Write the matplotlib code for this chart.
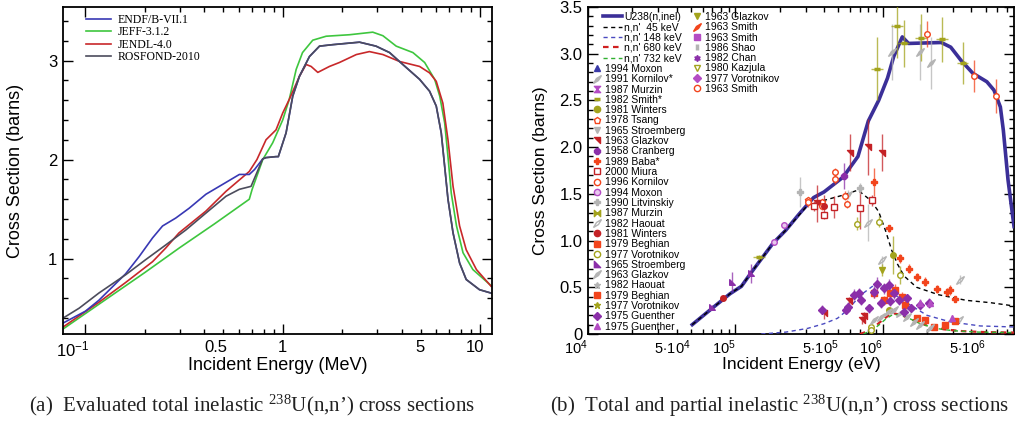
import numpy as np
import matplotlib
matplotlib.use('Agg')
import matplotlib.pyplot as plt
from matplotlib.lines import Line2D
from matplotlib.markers import MarkerStyle
from matplotlib.path import Path
from matplotlib.transforms import Affine2D, ScaledTranslation
from matplotlib.ticker import FixedLocator, FixedFormatter

plt.rcParams['font.family'] = ['Liberation Sans', 'DejaVu Sans']
plt.rcParams['mathtext.fontset'] = 'custom'
plt.rcParams['mathtext.rm'] = 'Liberation Serif'
plt.rcParams['mathtext.sf'] = 'Liberation Sans'
plt.rcParams['mathtext.it'] = 'Liberation Serif:italic'
plt.rcParams['mathtext.bf'] = 'Liberation Serif:bold'

# ---------------- Left panel: evaluated total inelastic (MeV, barns) -------------
endf_e = [0.077, 0.1, 0.117, 0.16, 0.187, 0.219, 0.246, 0.287, 0.336, 0.408, 0.516, 0.603, 0.677,
          0.72, 0.792, 0.823, 0.925, 0.95, 1.04, 1.124, 1.215, 1.366, 1.536, 1.795, 2.45, 2.97,
          3.48, 4.06, 4.94, 5.55, 6.0, 6.36, 6.62, 6.88, 7.3, 7.88, 8.51, 9.94, 11.5]
endf_y = [0.35, 0.47, 0.58, 0.848, 1.02, 1.21, 1.33, 1.41, 1.51, 1.65, 1.77, 1.85, 1.85,
          1.90, 2.007, 2.02, 2.03, 2.03, 2.27, 2.64, 2.84, 3.04, 3.145, 3.16, 3.185, 3.145,
          3.08, 2.96, 2.81, 2.69, 2.54, 2.27, 1.93, 1.60, 1.26, 0.956, 0.79, 0.687, 0.65]

rosfond_e = [0.077, 0.0929, 0.117, 0.16, 0.202, 0.256, 0.323, 0.408, 0.516, 0.603, 0.691,
             0.792, 0.823, 0.925, 0.95, 1.04, 1.124, 1.215, 1.366, 1.536, 1.795, 2.45, 2.97,
             3.48, 4.06, 4.94, 5.55, 6.0, 6.36, 6.62, 6.88, 7.3, 7.88, 8.51, 9.94, 11.5]
rosfond_y = [0.40, 0.50, 0.653, 0.838, 0.99, 1.14, 1.29, 1.46, 1.63, 1.70, 1.73,
             2.007, 2.02, 2.03, 2.03, 2.27, 2.64, 2.84, 3.04, 3.145, 3.16, 3.185, 3.145,
             3.08, 2.96, 2.81, 2.69, 2.54, 2.27, 1.93, 1.60, 1.26, 0.956, 0.79, 0.687, 0.65]

jeff_e = [0.077, 0.117, 0.2, 0.3, 0.45, 0.677, 0.70, 0.792, 0.89, 1.0, 1.08, 1.17, 1.26, 1.42,
          1.66, 2.18, 2.86, 3.22, 3.76, 4.57, 5.24, 5.89, 6.25, 6.62, 6.88, 7.15, 7.6, 8.2, 9.2, 11.5]
jeff_y = [0.29, 0.54, 0.86, 1.11, 1.35, 1.60, 1.70, 2.0, 2.17, 2.40, 2.61, 2.91, 3.08, 3.205,
          3.245, 3.26, 3.286, 3.25, 3.145, 3.08, 2.98, 2.81, 2.64, 2.37, 2.03, 1.66, 1.33, 1.06, 0.89, 0.72]

jendl_e = [0.077, 0.117, 0.16, 0.219, 0.256, 0.298, 0.408, 0.516, 0.677, 0.74, 0.823, 0.925, 1.0,
           1.081, 1.215, 1.314, 1.393, 1.506, 1.725, 1.939, 2.36, 2.75, 3.22, 3.91, 4.94, 5.55,
           6.0, 6.48, 6.88, 7.3, 7.88, 8.51, 9.59, 11.4]
jendl_y = [0.31, 0.56, 0.76, 0.97, 1.11, 1.26, 1.48, 1.68, 1.88, 2.0, 2.20, 2.30, 2.47,
           2.61, 2.84, 2.96, 2.94, 2.88, 2.94, 2.98, 3.06, 3.09, 3.06, 2.99, 2.94, 2.875,
           2.79, 2.57, 2.20, 1.73, 1.33, 1.09, 0.89, 0.72]

# ---------------- Right panel: curves (eV, barns) ----------------
u238_e = [5.1e4, 6.9e4, 9.2e4, 1.1e5, 1.3e5, 1.8e5, 2.2e5, 2.7e5, 3.4e5, 4.0e5, 5.4e5, 6.8e5,
          8.0e5, 9.4e5, 1.08e6, 1.19e6, 1.36e6, 1.5e6, 2.5e6, 2.9e6, 3.4e6, 4.1e6, 5.1e6, 5.7e6,
          6.3e6, 6.6e6, 7.1e6, 7.8e6]
u238_y = [0.10, 0.27, 0.43, 0.51, 0.67, 0.97, 1.11, 1.28, 1.46, 1.52, 1.68, 1.90,
          2.28, 2.50, 2.74, 2.97, 3.18, 3.11, 3.12, 3.07, 2.93, 2.79, 2.70, 2.61,
          2.43, 2.18, 1.65, 1.15]

lvl45_e = [5.1e4, 6.9e4, 9.2e4, 1.1e5, 1.3e5, 1.8e5, 2.2e5, 2.7e5, 3.1e5, 4.0e5, 5.5e5, 6.8e5,
           8.3e5, 9.4e5, 1.05e6, 1.15e6, 1.26e6, 1.4e6, 1.7e6, 2.4e6, 3.7e6, 5.4e6, 7.8e6]
lvl45_y = [0.10, 0.27, 0.43, 0.51, 0.67, 0.97, 1.11, 1.27, 1.38, 1.43, 1.49, 1.54,
           1.43, 1.31, 1.10, 0.90, 0.75, 0.62, 0.50, 0.42, 0.36, 0.335, 0.30]

lvl148_e = [1.5e5, 2.2e5, 3.1e5, 4.0e5, 4.94e5, 5.78e5, 7.1e5, 8.7e5, 9.2e5, 1.13e6, 1.47e6,
            2.0e6, 2.88e6, 4.6e6, 7.8e6]
lvl148_y = [0.0, 0.02, 0.06, 0.11, 0.168, 0.257, 0.417, 0.52, 0.55, 0.45, 0.33,
            0.20, 0.13, 0.086, 0.075]

lvl680_e = [7.0e5, 8e5, 9e5, 1.0e6, 1.1e6, 1.2e6, 1.35e6, 1.6e6, 2.0e6, 2.6e6, 3.5e6, 5e6, 7.8e6]
lvl680_y = [0.0, 0.03, 0.09, 0.15, 0.20, 0.22, 0.20, 0.15, 0.09, 0.05, 0.03, 0.02, 0.015]

lvl732_e = [7.4e5, 8.5e5, 9.5e5, 1.05e6, 1.15e6, 1.3e6, 1.5e6, 1.8e6, 2.3e6, 3e6, 4.5e6, 7.8e6]
lvl732_y = [0.0, 0.04, 0.10, 0.16, 0.20, 0.21, 0.17, 0.11, 0.06, 0.035, 0.02, 0.015]

# ---------------- Right panel: experimental data (eV, barns, +-err) ----------------
moxon94a_e, moxon94a_y, moxon94a_err = [], [], []
kornilov91_e = [1.15e6, 1.79e6, 2.14e6, 5.78e5]
kornilov91_y = [3.02, 3.02, 2.90, 1.49]
kornilov91_err = [0.30, 0.30, 0.28, 0.05]
murzin87a_e, murzin87a_y, murzin87a_err = [], [], []
smith82_e = [1.45e5, 9.2e5, 1.26e6, 1.39e6, 1.83e6, 2.53e6, 3.51e6]
smith82_y = [0.82, 2.84, 3.30, 3.11, 3.17, 3.155, 2.90]
smith82_err = [0.03, 0.34, 0.35, 0.25, 0.25, 0.24, 0.22]
winters81a_e = [1.18e6, 1.1e6]
winters81a_y = [0.845, 0.26]
winters81a_err = [0.2, 0.03]
tsang78_e = [3.1e5, 3.9e5]
tsang78_y = [1.43, 1.41]
tsang78_err = [0.04, 0.04]
stroemberg65a_e, stroemberg65a_y, stroemberg65a_err = [], [], []
glazkov63a_e = [3.6e5, 4.0e5, 5.9e5, 6.02e5, 7.3e5, 7.5e5, 7.9e5, 9.95e5]
glazkov63a_y = [1.40, 0.22, 0.35, 1.94, 0.15, 0.19, 2.0, 1.94]
glazkov63a_err = [0.2, 0.06, 0.05, 0.2, 0.04, 0.04, 0.3, 0.2]
cranberg58_e = [5.45e5]
cranberg58_y = [1.69]
cranberg58_err = [0.14]
baba89_e = [8.8e5, 1.1e6, 1.32e6, 1.5e6, 1.72e6, 1.95e6, 2.34e6, 2.74e6, 2.88e6, 3.1e6]
baba89_y = [1.63, 1.13, 0.81, 0.70, 0.61, 0.56, 0.48, 0.45, 0.47, 0.37]
baba89_err = [0.15, 0.04, 0.05, 0.05, 0.04, 0.05, 0.04, 0.04, 0.05, 0.03]
miura00_e = [3.43e5, 4.0e5, 4.7e5, 6.99e5, 8.5e5]
miura00_y = [1.37, 1.27, 1.36, 1.345, 1.43]
miura00_err = [0.05, 0.04, 0.12, 0.22, 0.06]
kornilov96_e = [3.13e5, 3.9e5, 4.74e5, 4.74e5, 5.55e5, 5.7e5]
kornilov96_y = [1.41, 1.37, 1.73, 1.66, 1.48, 1.39]
kornilov96_err = [0.05, 0.04, 0.05, 0.05, 0.05, 0.04]
moxon94b_e = [1.84e5, 2.15e5]
moxon94b_y = [0.98, 1.17]
moxon94b_err = [0.02, 0.03]
litvinskiy90_e = [2.77e5, 7.0e5]
litvinskiy90_y = [1.52, 1.56]
litvinskiy90_err = [0.16, 0.06]
murzin87b_e, murzin87b_y, murzin87b_err = [], [], []
haouat82a_e = [3.28e6, 3.37e6, 9.85e5, 7.9e5]
haouat82a_y = [0.15, 0.58, 0.79, 1.19]
haouat82a_err = [0.02, 0.05, 0.05, 0.2]
winters81b_e = [8.3e4, 4.0e5]
winters81b_y = [0.38, 1.37]
winters81b_err = [0.02, 0.12]
beghian79a_e = [8.7e5, 1.02e6, 1.13e6, 1.22e6, 1.36e6, 1.43e6, 1.72e6, 1.95e6, 2.22e6, 2.66e6, 3.1e6]
beghian79a_y = [0.435, 0.36, 0.435, 0.47, 0.40, 0.31, 0.168, 0.15, 0.08, 0.096, 0.14]
beghian79a_err = [0.05, 0.05, 0.05, 0.06, 0.05, 0.05, 0.03, 0.03, 0.02, 0.02, 0.03]
vorotnikov77a_e = [6.7e5, 9.4e5, 1.32e6, 8.3e5, 8.3e5]
vorotnikov77a_y = [1.18, 1.20, 0.63, 0.08, 0.04]
vorotnikov77a_err = [0.07, 0.06, 0.10, 0.01, 0.01]
stroemberg65b_e = [6.9e4, 9.5e4, 1.28e5]
stroemberg65b_y = [0.29, 0.56, 0.65]
stroemberg65b_err = [0.02, 0.10, 0.10]
glazkov63b_e = [8.7e5, 9.7e5, 1.08e6, 1.19e6, 1.32e6, 1.47e6, 1.63e6, 1.8e6, 2.11e6]
glazkov63b_y = [0.15, 0.185, 0.24, 0.257, 0.22, 0.185, 0.13, 0.096, 0.06]
glazkov63b_err = [0.02, 0.02, 0.02, 0.02, 0.02, 0.02, 0.02, 0.02, 0.02]
haouat82b_e, haouat82b_y, haouat82b_err = [], [], []
beghian79b_e, beghian79b_y, beghian79b_err = [], [], []
vorotnikov77b_e, vorotnikov77b_y, vorotnikov77b_err = [], [], []
guenther75a_e = [3.9e5, 5.6e5, 5.8e5, 6.4e5, 6.9e5, 7.1e5, 8.1e5, 8.7e5, 9.2e5, 9.7e5, 1.02e6,
                 1.1e6, 1.13e6, 1.19e6, 1.29e6, 1.39e6, 1.47e6, 1.55e6, 1.8e6, 2.06e6]
guenther75a_y = [0.26, 0.26, 0.29, 0.42, 0.435, 0.36, 0.275, 0.45, 0.54, 0.33, 0.49,
                 0.52, 0.35, 0.435, 0.36, 0.24, 0.38, 0.275, 0.31, 0.33]
guenther75a_err = [0.05, 0.05, 0.05, 0.06, 0.06, 0.05, 0.05, 0.06, 0.07, 0.05, 0.06,
                   0.07, 0.05, 0.06, 0.05, 0.04, 0.05, 0.04, 0.05, 0.05]
guenther75b_e = [1.8e6, 2.11e6, 2.96e6]
guenther75b_y = [0.33, 0.33, 0.168]
guenther75b_err = [0.04, 0.04, 0.03]
glazkov63c_e = [9.95e5]
glazkov63c_y = [0.685]
glazkov63c_err = [0.06]
smith63a_e, smith63a_y, smith63a_err = [], [], []
smith63b_e, smith63b_y, smith63b_err = [], [], []
shao86_e, shao86_y, shao86_err = [], [], []
chan82_e, chan82_y, chan82_err = [], [], []
kazjula80_e, kazjula80_y, kazjula80_err = [], [], []
vorotnikov77c_e, vorotnikov77c_y, vorotnikov77c_err = [], [], []
smith63c_e = [2.0e6, 4.18e6, 5.9e6]
smith63c_y = [3.21, 2.76, 2.55]
smith63c_err = [0.14, 0.17, 0.18]

# ---------------- styles ----------------
OLIVE = '#a3a31c'
GRAY = '#b4b4b4'
ORANGE = '#f2441c'
DRED = '#c42226'
PURPLE = '#8b2fa9'
MAGENTA = '#b44cc4'
NAVY = '#3b2f98'

hourglass = Path([(-1, 1), (1, 1), (-1, -1), (1, -1), (-1, 1)], closed=True)
bowtie = Path([(-1, -1), (-1, 1), (1, -1), (1, 1), (-1, -1)], closed=True)
flag = Path([(-1, 1), (1, 1), (1, -1), (-1, 1)], closed=True)
rtri = Path([(-1, -1), (1, -1), (-1, 1), (-1, -1)], closed=True)
slant = MarkerStyle('d', transform=Affine2D().scale(0.55, 1.35).rotate_deg(-45))
slant_h = MarkerStyle('d', fillstyle='none', transform=Affine2D().scale(0.55, 1.35).rotate_deg(-45))

col1 = [
    ('1994 Moxon', moxon94a_e, moxon94a_y, moxon94a_err, dict(marker='^', color='#3a3aa8')),
    ('1991 Kornilov*', kornilov91_e, kornilov91_y, kornilov91_err, dict(marker=slant, color=GRAY)),
    ('1987 Murzin', murzin87a_e, murzin87a_y, murzin87a_err, dict(marker=hourglass, color=MAGENTA)),
    ('1982 Smith*', smith82_e, smith82_y, smith82_err, dict(marker='_', color=OLIVE, mew=2.5)),
    ('1981 Winters', winters81a_e, winters81a_y, winters81a_err, dict(marker='o', color=OLIVE)),
    ('1978 Tsang', tsang78_e, tsang78_y, tsang78_err, dict(marker='p', color=ORANGE, mfc='white')),
    ('1965 Stroemberg', stroemberg65a_e, stroemberg65a_y, stroemberg65a_err, dict(marker='v', color=GRAY)),
    ('1963 Glazkov', glazkov63a_e, glazkov63a_y, glazkov63a_err, dict(marker=flag, color=DRED)),
    ('1958 Cranberg', cranberg58_e, cranberg58_y, cranberg58_err, dict(marker='8', color=PURPLE)),
    ('1989 Baba*', baba89_e, baba89_y, baba89_err, dict(marker='P', color=ORANGE)),
    ('2000 Miura', miura00_e, miura00_y, miura00_err, dict(marker='s', color=DRED, mfc='white')),
    ('1996 Kornilov', kornilov96_e, kornilov96_y, kornilov96_err, dict(marker='o', color=ORANGE, mfc='white')),
    ('1994 Moxon', moxon94b_e, moxon94b_y, moxon94b_err, dict(marker='o', color=MAGENTA, mfc='#e8c8ee')),
    ('1990 Litvinskiy', litvinskiy90_e, litvinskiy90_y, litvinskiy90_err, dict(marker='P', color=GRAY)),
    ('1987 Murzin', murzin87b_e, murzin87b_y, murzin87b_err, dict(marker=bowtie, color=OLIVE)),
    ('1982 Haouat', haouat82a_e, haouat82a_y, haouat82a_err, dict(marker=slant_h, color=GRAY)),
    ('1981 Winters', winters81b_e, winters81b_y, winters81b_err, dict(marker='o', color=DRED)),
    ('1979 Beghian', beghian79a_e, beghian79a_y, beghian79a_err, dict(marker='s', color=ORANGE)),
    ('1977 Vorotnikov', vorotnikov77a_e, vorotnikov77a_y, vorotnikov77a_err, dict(marker='o', color=OLIVE, mfc='white')),
    ('1965 Stroemberg', stroemberg65b_e, stroemberg65b_y, stroemberg65b_err, dict(marker=rtri, color=PURPLE)),
    ('1963 Glazkov', glazkov63b_e, glazkov63b_y, glazkov63b_err, dict(marker=slant, color=GRAY)),
    ('1982 Haouat', haouat82b_e, haouat82b_y, haouat82b_err, dict(marker='*', color=GRAY)),
    ('1979 Beghian', beghian79b_e, beghian79b_y, beghian79b_err, dict(marker='s', color=ORANGE)),
    ('1977 Vorotnikov', vorotnikov77b_e, vorotnikov77b_y, vorotnikov77b_err, dict(marker='*', color=OLIVE)),
    ('1975 Guenther', guenther75a_e, guenther75a_y, guenther75a_err, dict(marker='D', color=PURPLE)),
    ('1975 Guenther', guenther75b_e, guenther75b_y, guenther75b_err, dict(marker='^', color=MAGENTA)),
]
col2 = [
    ('1963 Glazkov', glazkov63c_e, glazkov63c_y, glazkov63c_err, dict(marker='v', color=OLIVE)),
    ('1963 Smith', smith63a_e, smith63a_y, smith63a_err, dict(marker=slant, color=ORANGE)),
    ('1963 Smith', smith63b_e, smith63b_y, smith63b_err, dict(marker='s', color=MAGENTA)),
    ('1986 Shao', shao86_e, shao86_y, shao86_err, dict(marker='|', color=GRAY, mew=2.5)),
    ('1982 Chan', chan82_e, chan82_y, chan82_err, dict(marker=(6, 1, 0), color=PURPLE)),
    ('1980 Kazjula', kazjula80_e, kazjula80_y, kazjula80_err, dict(marker='v', color=OLIVE, mfc='white')),
    ('1977 Vorotnikov', vorotnikov77c_e, vorotnikov77c_y, vorotnikov77c_err, dict(marker='D', color=MAGENTA)),
    ('1963 Smith', smith63c_e, smith63c_y, smith63c_err, dict(marker='o', color=ORANGE, mfc='white')),
]

# ---------------- figure ----------------
fig = plt.figure(figsize=(10.18, 4.24), dpi=100)
ax1 = fig.add_axes([0.0619, 0.2123, 0.4214, 0.7712])
ax2 = fig.add_axes([0.5776, 0.2123, 0.4185, 0.7712])

for ax in (ax1, ax2):
    for s in ax.spines.values():
        s.set_linewidth(1.3)
    ax.tick_params(which='both', direction='in', top=True, right=True, width=1.0, labelsize=12, pad=4)
    ax.tick_params(which='major', length=7)
    ax.tick_params(which='minor', length=3.5)

# left panel
ax1.set_xscale('log')
ax1.plot(jeff_e, jeff_y, color='#3ec63e', lw=1.2)
ax1.plot(jendl_e, jendl_y, color='#c8282a', lw=1.2)
ax1.plot(endf_e, endf_y, color='#3838b4', lw=1.2)
ax1.plot(rosfond_e, rosfond_y, color='#4c4c5c', lw=1.2)
ax1.set_xlim(0.077, 11.5)
ax1.set_ylim(0.24, 3.54)
ax1.xaxis.set_major_locator(FixedLocator([0.1, 1, 10]))
ax1.xaxis.set_major_formatter(FixedFormatter([r'$\mathsf{10^{-1}}$', '1', '10']))
minors1 = [0.2, 0.3, 0.4, 0.5, 0.6, 0.7, 0.8, 0.9, 2, 3, 4, 5, 6, 7, 8, 9]
ax1.xaxis.set_minor_locator(FixedLocator(minors1))
ax1.xaxis.set_minor_formatter(FixedFormatter(['0.5' if v == 0.5 else ('5' if v == 5 else '') for v in minors1]))
shift1 = ScaledTranslation(3 / 72, 0, fig.dpi_scale_trans)
for t in ax1.xaxis.get_majorticklabels() + ax1.xaxis.get_minorticklabels():
    t.set_ha('right')
    t.set_transform(t.get_transform() + shift1)
ax1.yaxis.set_major_locator(FixedLocator([1, 2, 3]))
ax1.yaxis.set_major_formatter(FixedFormatter(['1', '2', '3']))
ax1.yaxis.set_minor_locator(FixedLocator(np.arange(0.4, 3.5, 0.2)))
ax1.set_xlabel('Incident Energy (MeV)', fontsize=13)
ax1.set_ylabel('Cross Section (barns)', fontsize=13)
ax1.xaxis.set_label_coords(0.5, -0.07)
ax1.xaxis.label.set_va('top')
ax1.yaxis.set_label_coords(-0.091, 0.5)

lh = [Line2D([], [], color='#3838b4', lw=1.2),
      Line2D([], [], color='#3ec63e', lw=1.2),
      Line2D([], [], color='#c8282a', lw=1.2),
      Line2D([], [], color='#4c4c5c', lw=1.2)]
ax1.legend(lh, ['ENDF/B-VII.1', 'JEFF-3.1.2', 'JENDL-4.0', 'ROSFOND-2010'],
           prop={'family': 'Liberation Serif', 'size': 8.5}, loc='upper left',
           bbox_to_anchor=(0.054, 0.979), handlelength=2.1, handletextpad=0.6,
           labelspacing=0.045, borderpad=0, borderaxespad=0, frameon=False)

# right panel
ax2.set_xscale('log')
ax2.plot(u238_e, u238_y, color=NAVY, lw=2.6, zorder=3)
ax2.plot(lvl45_e, lvl45_y, color='black', lw=1.0, ls=(0, (3, 2.5)), zorder=4)
ax2.plot(lvl148_e, lvl148_y, color='#4a4ac0', lw=1.0, ls=(0, (3, 2.5)), zorder=4)
ax2.plot(lvl680_e, lvl680_y, color='#d02020', lw=1.6, ls=(0, (2.5, 2)), zorder=4)
ax2.plot(lvl732_e, lvl732_y, color='#30b030', lw=1.0, ls=(0, (3, 2.5)), zorder=4)

for label, e, y, err, st in col1 + col2:
    if len(e) == 0:
        continue
    c = st['color']
    xerr = np.array(e) * 0.09 if label == '1982 Smith*' else None
    ax2.errorbar(e, y, yerr=err, xerr=xerr, fmt='none', ecolor=c, elinewidth=1.0, alpha=0.75, zorder=5)
    ax2.plot(e, y, linestyle='none', marker=st['marker'], color=c, mec=c,
             mfc=st.get('mfc', c), ms=4, mew=st.get('mew', 1.0), zorder=6)

ax2.set_xlim(1e4, 7.8e6)
ax2.set_ylim(0, 3.5)
ax2.xaxis.set_major_locator(FixedLocator([1e4, 1e5, 1e6]))
ax2.xaxis.set_major_formatter(FixedFormatter([r'$\mathsf{10^{4}}$', r'$\mathsf{10^{5}}$', r'$\mathsf{10^{6}}$']))
minors2 = [m * d for d in (1e4, 1e5, 1e6) for m in range(2, 10)]
ax2.xaxis.set_minor_locator(FixedLocator(minors2))
lab2 = []
for v in minors2:
    if abs(v - 5e4) < 1:
        lab2.append(r'$\mathsf{5\!\cdot\!10^{4}}$')
    elif abs(v - 5e5) < 1:
        lab2.append(r'$\mathsf{5\!\cdot\!10^{5}}$')
    elif abs(v - 5e6) < 1:
        lab2.append(r'$\mathsf{5\!\cdot\!10^{6}}$')
    else:
        lab2.append('')
ax2.xaxis.set_minor_formatter(FixedFormatter(lab2))
ax2.tick_params(axis='x', which='both', labelsize=10.5, pad=3)
for t in ax2.xaxis.get_majorticklabels() + ax2.xaxis.get_minorticklabels():
    t.set_ha('right')
ax2.yaxis.set_major_locator(FixedLocator(np.arange(0, 3.51, 0.5)))
ax2.yaxis.set_major_formatter(FixedFormatter(['0', '0.5', '1.0', '1.5', '2.0', '2.5', '3.0', '3.5']))
ax2.yaxis.set_minor_locator(FixedLocator(np.arange(0.1, 3.5, 0.1)))
ax2.set_xlabel('Incident Energy (eV)', fontsize=12.5)
ax2.set_ylabel('Cross Section (barns)', fontsize=12.5)
ax2.xaxis.set_label_coords(0.5, -0.07)
ax2.xaxis.label.set_va('top')
ax2.yaxis.set_label_coords(-0.094, 0.5)

line_h = [Line2D([], [], color=NAVY, lw=2.6),
          Line2D([], [], color='black', lw=1.0, ls=(0, (3, 2.5))),
          Line2D([], [], color='#4a4ac0', lw=1.0, ls=(0, (3, 2.5))),
          Line2D([], [], color='#d02020', lw=1.6, ls=(0, (2.5, 2))),
          Line2D([], [], color='#30b030', lw=1.0, ls=(0, (3, 2.5)))]
line_l = ['U238(n,inel)', "n,n'  45 keV", "n,n' 148 keV", "n,n' 680 keV", "n,n' 732 keV"]
leg_kw = dict(loc='upper left', frameon=False, fontsize=7.5, borderpad=0, borderaxespad=0,
              labelspacing=0.03)
legA = ax2.legend(line_h, line_l, bbox_to_anchor=(0.035, 0.985), handlelength=1.8,
                  handletextpad=0.25, **leg_kw)
ax2.add_artist(legA)


def mk_handles(col):
    hs = []
    for label, e, y, err, st in col:
        c = st['color']
        hs.append(Line2D([], [], linestyle='none', marker=st['marker'], color=c, mec=c,
                         mfc=st.get('mfc', c), ms=4.5, mew=st.get('mew', 1.0)))
    return hs


legB = ax2.legend(mk_handles(col1), [c[0] for c in col1], bbox_to_anchor=(0.009, 0.826),
                  handlelength=1.0, handletextpad=0.3, **leg_kw)
ax2.add_artist(legB)
legC = ax2.legend(mk_handles(col2), [c[0] for c in col2], bbox_to_anchor=(0.244, 0.985),
                  handlelength=1.0, handletextpad=0.3, **leg_kw)

# captions
fig.text(0.2475, 0.043, r"(a)  Evaluated total inelastic $^{238}$U(n,n’) cross sections",
         ha='center', va='center', fontsize=15, family='Liberation Serif', color='#222222')
fig.text(0.766, 0.043, r"(b)  Total and partial inelastic $^{238}$U(n,n’) cross sections",
         ha='center', va='center', fontsize=15, family='Liberation Serif', color='#222222')

fig.savefig('out.png', dpi=100)
